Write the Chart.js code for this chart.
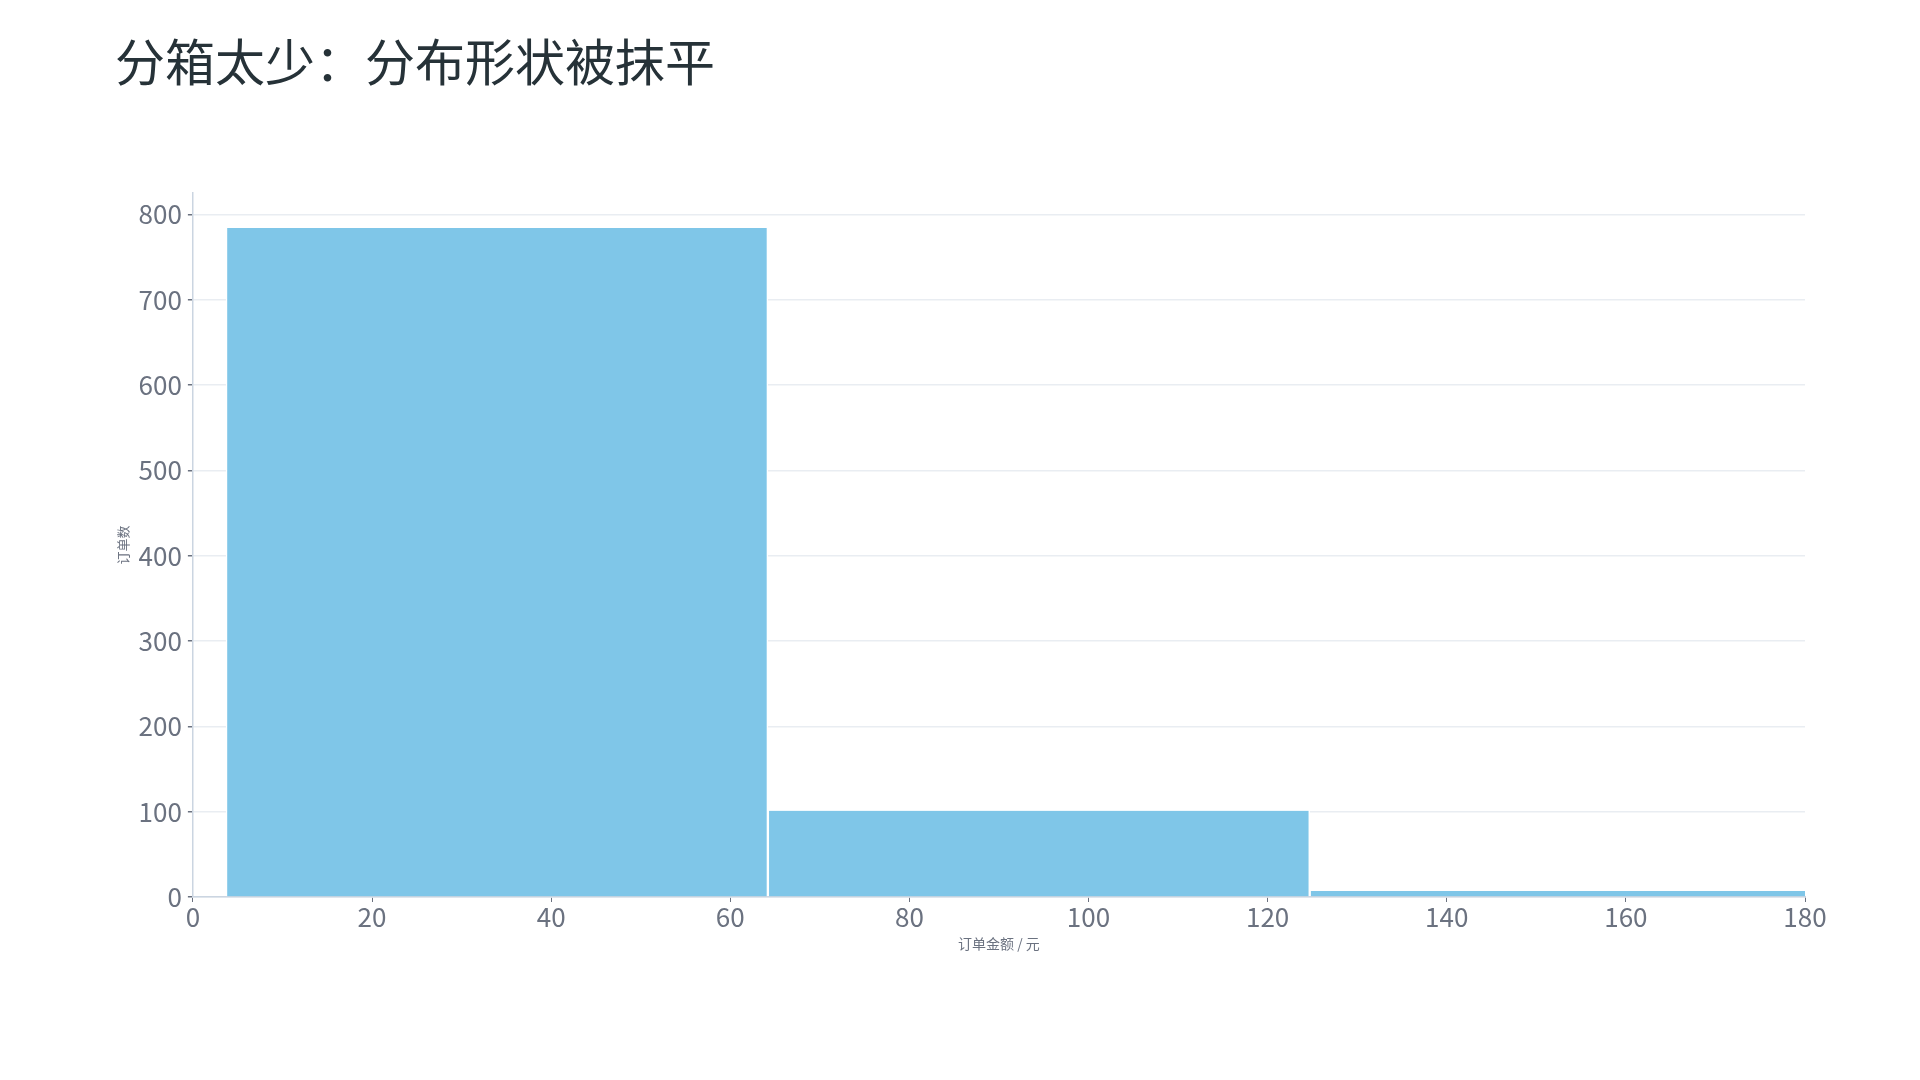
<!DOCTYPE html>
<html lang="zh-CN">
<head>
<meta charset="utf-8">
<title>分箱太少</title>
<script src="https://cdn.jsdelivr.net/npm/chart.js@4/dist/chart.umd.min.js"></script>
<style>
    html, body { margin: 0; padding: 0; background: #ffffff; }
    #wrap { width: 1920px; height: 1080px; position: relative; }
</style>
</head>
<body>
<div id="wrap"><canvas id="histChart"></canvas></div>
<script>
// Bin edges (order amount, yuan) and the count in each bin
const binEdges = [3.7, 64.2, 124.7, 185.2];
const binCounts = [784, 101, 7];
// Axis ranges / tick steps
const xTickStep = 20;
const xMax = 180;
const yTickStep = 100;
const yMax = 825;

const FONT = "'Noto Sans CJK SC', 'Noto Sans', sans-serif";
const TEXT_GRAY = '#6b7280';

// Each bar sits at the middle of its bin
const histPoints = binCounts.map((c, i) => ({
    x: (binEdges[i] + binEdges[i + 1]) / 2,
    y: c
}));

const ctx = document.getElementById('histChart').getContext('2d');
const histChart = new Chart(ctx, {
    type: 'bar',
    data: {
        datasets: [{
            label: '订单数',
            data: histPoints,
            backgroundColor: '#7fc6e8',
            borderColor: '#ffffff',
            borderWidth: { left: 1.5, right: 1.5, top: 0, bottom: 0 },
            barThickness: 'flex',
            barPercentage: 1,
            categoryPercentage: 1,
            clip: 0
        }]
    },
    options: {
        responsive: true,
        maintainAspectRatio: false,
        animation: false,
        layout: {
            padding: { top: 32, left: 115, right: 115, bottom: 128 }
        },
        plugins: {
            legend: { display: false },
            tooltip: { enabled: false },
            title: {
                display: true,
                text: '分箱太少：分布形状被抹平',
                align: 'start',
                color: '#263238',
                font: { family: FONT, size: 50, weight: 'normal' },
                padding: { top: 0, bottom: 101 }
            }
        },
        scales: {
            x: {
                type: 'linear',
                min: 0,
                max: xMax,
                offset: false,
                ticks: {
                    stepSize: xTickStep,
                    color: TEXT_GRAY,
                    font: { family: FONT, size: 26 },
                    padding: 0,
                    maxRotation: 0
                },
                grid: {
                    offset: false,
                    drawOnChartArea: false,
                    tickLength: 5,
                    tickColor: TEXT_GRAY
                },
                border: { color: '#cbd5e1', width: 1.5 },
                title: {
                    display: true,
                    text: '订单金额 / 元',
                    color: TEXT_GRAY,
                    font: { family: FONT, size: 14 },
                    padding: { top: 2, bottom: 0 }
                }
            },
            y: {
                min: 0,
                max: yMax,
                ticks: {
                    stepSize: yTickStep,
                    includeBounds: false,
                    color: TEXT_GRAY,
                    font: { family: FONT, size: 26 },
                    padding: 6
                },
                grid: {
                    color: '#e9edf2',
                    lineWidth: 1.5,
                    tickLength: 5,
                    tickColor: TEXT_GRAY
                },
                border: { color: '#cbd5e1', width: 1.5 },
                title: {
                    display: true,
                    text: '订单数',
                    color: TEXT_GRAY,
                    font: { family: FONT, size: 13 },
                    padding: { top: 0, bottom: 2 }
                }
            }
        }
    }
});
</script>
</body>
</html>
